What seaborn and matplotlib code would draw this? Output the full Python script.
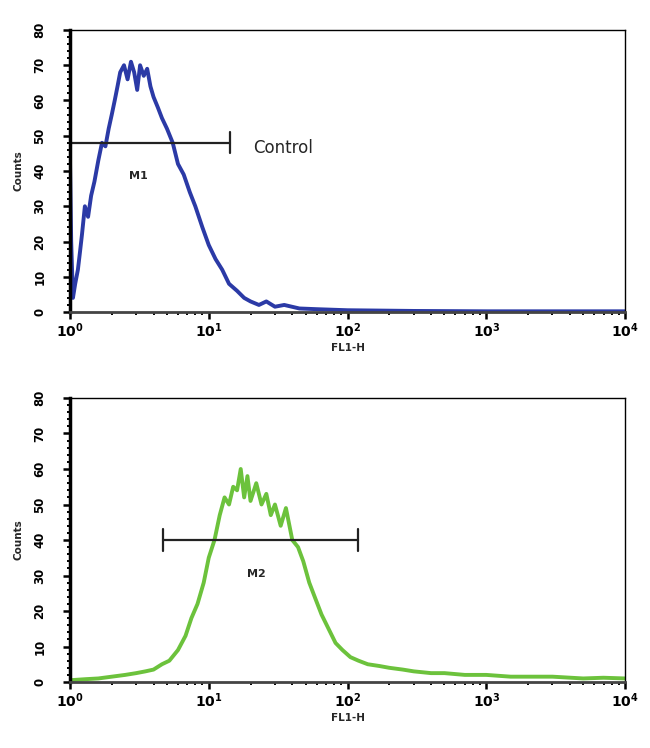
import numpy as np
import pandas as pd
import matplotlib
matplotlib.use("Agg")
import matplotlib.pyplot as plt
import seaborn as sns
from matplotlib.ticker import LogLocator, MultipleLocator, FixedLocator

sns.set_theme(style="ticks")
plt.rcParams['font.family'] = ['DejaVu Sans']

# Control histogram (FL1-H, counts)
ctrl_x = [1.0, 1.02, 1.05, 1.09, 1.14, 1.18, 1.22, 1.28, 1.35, 1.42, 1.5, 1.6, 1.7, 1.8,
          1.9, 2.0, 2.1, 2.2, 2.3, 2.45, 2.6, 2.75, 2.9, 3.05, 3.2, 3.4, 3.6, 3.8, 4.0,
          4.3, 4.6, 5.0, 5.5, 6.0, 6.6, 7.3, 8.0, 9.0, 10.0, 11.2, 12.5, 14.0, 16.0,
          18.0, 20.0, 23.0, 26.0, 30.0, 35.0, 45.0, 60.0, 100.0, 300.0, 1000.0, 3000.0, 10000.0]
ctrl_y = [43, 20, 4, 8, 12, 17, 22, 30, 27, 33, 37, 43, 48, 47, 52, 56, 60, 64, 68, 70,
          66, 71, 68, 63, 70, 67, 69, 64, 61, 58, 55, 52, 48, 42, 39, 34, 30, 24, 19,
          15, 12, 8, 6, 4, 3, 2, 3, 1.5, 2, 1, 0.8, 0.5, 0.3, 0.2, 0.2, 0.2]

# Sample histogram
samp_x = [1.0, 1.3, 1.6, 2.0, 2.5, 3.0, 3.5, 4.0, 4.6, 5.2, 6.0, 6.8, 7.5, 8.3, 9.2, 10.0,
          11.0, 12.0, 13.0, 14.0, 15.0, 16.0, 17.0, 18.0, 19.0, 20.0, 22.0, 24.0, 26.0,
          28.0, 30.0, 33.0, 36.0, 40.0, 44.0, 48.0, 53.0, 58.0, 65.0, 73.0, 82.0, 92.0,
          105.0, 120.0, 140.0, 170.0, 200.0, 250.0, 300.0, 400.0, 500.0, 700.0, 1000.0,
          1500.0, 2000.0, 3000.0, 5000.0, 7000.0, 10000.0]
samp_y = [0.5, 0.8, 1.0, 1.5, 2.0, 2.5, 3.0, 3.5, 5.0, 6.0, 9.0, 13.0, 18.0, 22.0, 28.0, 35.0,
          40.0, 47.0, 52.0, 50.0, 55.0, 54.0, 60.0, 52.0, 58.0, 51.0, 56.0, 50.0, 53.0,
          47.0, 50.0, 44.0, 49.0, 40.0, 38.0, 34.0, 28.0, 24.0, 19.0, 15.0, 11.0, 9.0,
          7.0, 6.0, 5.0, 4.5, 4.0, 3.5, 3.0, 2.5, 2.5, 2.0, 2.0, 1.5, 1.5, 1.5, 1.0, 1.2, 1.0]

ctrl_marker = {"label": "M1", "lo": 1.0, "hi": 14.2, "y": 48, "lx": 3.1}
samp_marker = {"label": "M2", "lo": 4.7, "hi": 120.0, "y": 40, "lx": 22.0}

xticks = [1, 10, 100, 1000, 10000]
xticklabels = [r"$\mathbf{10^0}$", r"$\mathbf{10^1}$", r"$\mathbf{10^2}$", r"$\mathbf{10^3}$", r"$\mathbf{10^4}$"]
yticks = [0, 10, 20, 30, 40, 50, 60, 70, 80]

fig = plt.figure(figsize=(6.5, 7.48), dpi=100)
ax1 = fig.add_axes([70/650, 1-312/748, 555/650, 282/748])
ax2 = fig.add_axes([70/650, 1-682/748, 555/650, 284/748])

def style(ax):
    ax.set_xscale("log")
    ax.set_xlim(1, 10000)
    ax.set_ylim(0, 80)
    ax.xaxis.set_major_locator(FixedLocator(xticks))
    ax.set_xticklabels(xticklabels, fontsize=10)
    ax.xaxis.set_minor_locator(LogLocator(base=10, subs=np.arange(2, 10)))
    ax.yaxis.set_major_locator(FixedLocator(yticks))
    ax.yaxis.set_minor_locator(MultipleLocator(2))
    ax.set_yticklabels([str(t) for t in yticks], rotation=90, fontsize=8.5,
                       fontweight="bold", va="center")
    ax.tick_params(axis="both", which="major", direction="out", length=5, width=1.8, colors="black")
    ax.tick_params(axis="both", which="minor", direction="out", length=2.5, width=1.4, colors="black")
    ax.tick_params(axis="x", which="major", pad=2)
    ax.tick_params(axis="y", which="major", pad=12)
    for s in ax.spines.values():
        s.set_visible(True)
        s.set_color("black")
        s.set_linewidth(1.0)
    ax.spines["left"].set_linewidth(2.5)
    ax.spines["bottom"].set_linewidth(2.0)
    ax.spines["bottom"].set_color("#444444")
    ax.set_xlabel("FL1-H", fontsize=7.5, fontweight="bold", labelpad=2)
    ax.set_ylabel("Counts", fontsize=7.5, fontweight="bold", labelpad=7)

df1 = pd.DataFrame({"x": ctrl_x, "y": ctrl_y})
df2 = pd.DataFrame({"x": samp_x, "y": samp_y})
sns.lineplot(data=df1, x="x", y="y", ax=ax1, color="#2b3aa6", linewidth=2.8)
sns.lineplot(data=df2, x="x", y="y", ax=ax2, color="#6cc23c", linewidth=2.8)

for ax, m in [(ax1, ctrl_marker), (ax2, samp_marker)]:
    ax.plot([m["lo"], m["hi"]], [m["y"], m["y"]], color="#222222", lw=1.6)
    for xv in (m["lo"], m["hi"]):
        ax.plot([xv, xv], [m["y"] - 3, m["y"] + 3], color="#222222", lw=1.6)
    ax.text(m["lx"], m["y"] - 9.5, m["label"], ha="center", va="center", fontsize=8, fontweight="bold")
    style(ax)

ax1.text(21, 46.5, "Control", ha="left", va="center", fontsize=12)

fig.savefig("out.png", dpi=100)
